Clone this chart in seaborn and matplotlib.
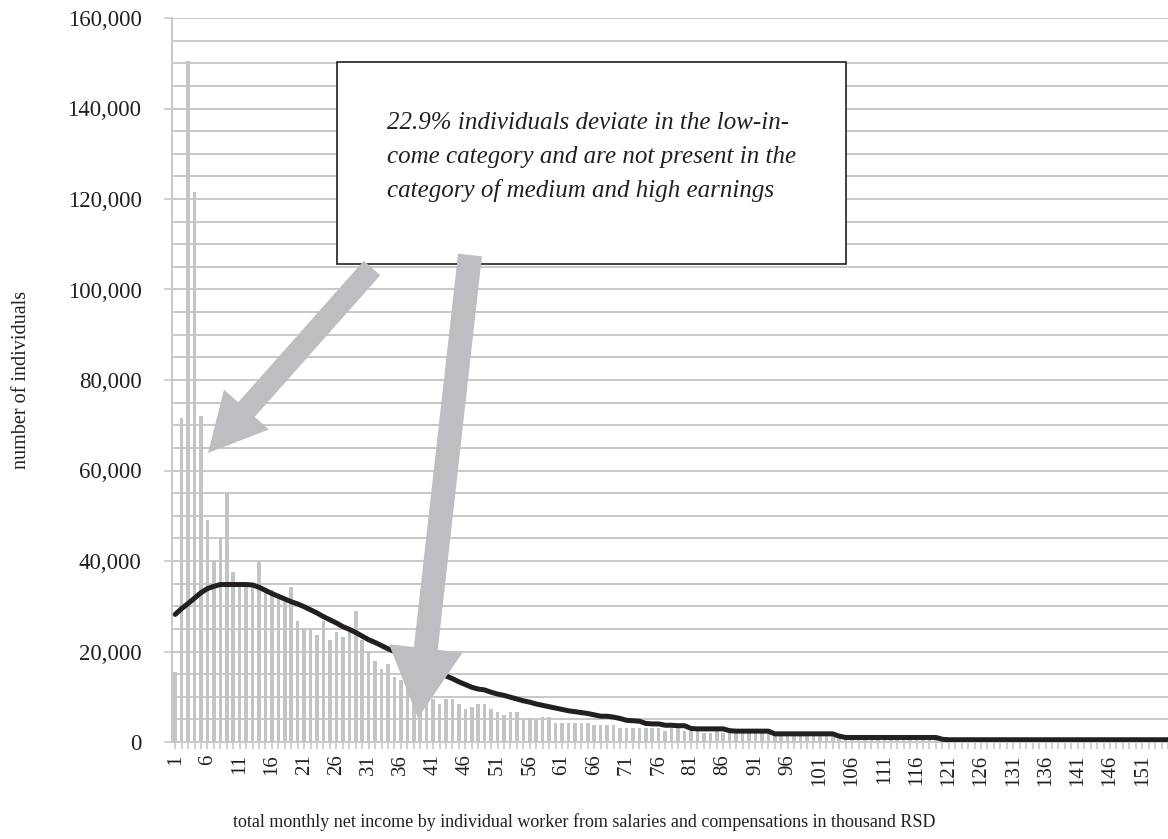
import numpy as np
import pandas as pd
import matplotlib
matplotlib.use("Agg")
import matplotlib.pyplot as plt
import seaborn as sns
from matplotlib.patches import FancyArrow, Rectangle
from matplotlib.transforms import IdentityTransform
from matplotlib.ticker import FuncFormatter, MultipleLocator

# income class (thousand RSD), bar counts and the smoothed curve
categories = list(range(1, 156))
counts = [
    15500, 71500, 150500, 121500, 72000, 49000, 40000, 45000, 55000, 37500,
    35000, 34500, 35000, 40000, 34000, 33500, 32500, 31000, 34300, 26700,
    24900, 24900, 23600, 26700, 22500, 24300, 23100, 24300, 29000, 22500,
    20100, 17800, 16100, 17200, 14400, 13700, 13000, 12000, 11000, 10500,
    9500, 8500, 9600, 9600, 8500, 7200, 7800, 8500, 8500, 7200,
    6700, 6000, 6700, 6700, 5200, 5200, 4900, 5500, 5500, 4300,
    4300, 4300, 4300, 4300, 4300, 3800, 3800, 3800, 3800, 3000,
    3000, 3000, 3000, 3000, 3000, 3000, 2500, 3000, 3000, 2500,
    2500, 2500, 1900, 1900, 2500, 1900, 1900, 1900, 1900, 1900,
    1900, 1900, 1900, 1500, 1500, 1600, 1500, 1500, 1400, 1500,
    1400, 1300, 1400, 1300, 900, 1000, 900, 900, 800, 900,
    800, 800, 900, 800, 700, 800, 700, 700, 800, 700,
    400, 400, 300, 400, 300, 300, 300, 300, 300, 300,
    300, 200, 300, 200, 200, 300, 200, 200, 200, 200,
    200, 200, 200, 200, 200, 200, 200, 200, 200, 200,
    200, 200, 200, 200, 200,
]
smooth = [
    28200, 29500, 30600, 31800, 33000, 33900, 34400, 34800, 34800, 34800,
    34800, 34800, 34700, 34200, 33500, 32800, 32200, 31600, 31000, 30500,
    29900, 29200, 28500, 27700, 27000, 26300, 25500, 24900, 24200, 23400,
    22600, 22000, 21300, 20600, 20000, 19300, 18600, 18000, 17300, 16600,
    15800, 15200, 14600, 14000, 13300, 12700, 12100, 11700, 11500, 11000,
    10600, 10300, 9900, 9500, 9100, 8800, 8400, 8100, 7800, 7500,
    7200, 6900, 6700, 6500, 6300, 6000, 5700, 5700, 5500, 5200,
    4800, 4700, 4600, 4100, 4000, 4000, 3700, 3700, 3600, 3600,
    3000, 2900, 2900, 2900, 2900, 2900, 2500, 2400, 2400, 2400,
    2400, 2400, 2400, 1800, 1800, 1800, 1800, 1800, 1800, 1800,
    1800, 1800, 1800, 1300, 1000, 1000, 1000, 1000, 1000, 1000,
    1000, 1000, 1000, 1000, 1000, 1000, 1000, 1000, 1000, 600,
    500, 500, 500, 500, 500, 500, 500, 500, 500, 500,
    500, 500, 500, 500, 500, 500, 500, 500, 500, 500,
    500, 500, 500, 500, 500, 500, 500, 500, 500, 500,
    500, 500, 500, 500, 500,
]
note_lines = [
    "22.9% individuals deviate in the low-in-",
    "come category and are not present in the",
    "category of medium and high earnings",
]
xlabel = "total monthly net income by individual worker from salaries and compensations in thousand RSD"
ylabel = "number of individuals"

df = pd.DataFrame({"income": categories, "count": counts, "smooth": smooth})

sns.set_style("white")
plt.rcParams["font.family"] = ["Liberation Serif", "DejaVu Serif"]

W, H = 1168, 839
BAR = "#c3c4c8"
GRID = "#c8c8c8"
INK = "#231f20"

fig = plt.figure(figsize=(W / 100, H / 100), dpi=100)
ax = fig.add_axes([172 / W, (H - 742) / H, (W - 172) / W, (742 - 18) / H])

sns.barplot(data=df, x="income", y="count", order=categories, color=BAR,
            width=0.55, saturation=1, linewidth=0, ax=ax, zorder=2)
ax.plot(np.arange(len(df)), df["smooth"], color=INK, lw=3.6,
        solid_joinstyle="round", solid_capstyle="round", zorder=3)

ax.set_ylim(0, 160000)
ax.set_xlim(-0.5, (W - 172) / 6.49 - 0.5)
ax.yaxis.set_major_locator(MultipleLocator(20000))
ax.yaxis.set_minor_locator(MultipleLocator(5000))
ax.yaxis.set_major_formatter(FuncFormatter(lambda v, p: f"{int(v):,}"))
ax.grid(axis="y", which="both", color=GRID, lw=1.4, zorder=0)
ax.set_axisbelow(True)

ax.set_xticks(np.arange(0, len(categories), 5))
ax.set_xticklabels([str(c) for c in categories[::5]], rotation=90)
ax.set_xticks(np.arange(len(categories)), minor=True)

ax.tick_params(axis="y", which="major", length=6, width=1.2, color=GRID,
               labelsize=16.5, labelcolor=INK, pad=16, left=True)
ax.tick_params(axis="y", which="minor", length=0)
ax.tick_params(axis="x", which="both", length=5, width=1.2, color=GRID,
               bottom=True, direction="out")
ax.tick_params(axis="x", which="major", labelsize=15, labelcolor=INK, pad=4)

for s in ["top", "right"]:
    ax.spines[s].set_visible(False)
for s in ["left", "bottom"]:
    ax.spines[s].set_color(GRID)
    ax.spines[s].set_linewidth(1.4)
ax.set_xlabel("")
ax.set_ylabel("")

fig.text(584 / W, 1 - 822 / H, xlabel, ha="center", va="center",
         fontsize=13, color=INK)
fig.text(22 / W, 1 - 380 / H, ylabel, ha="center", va="center",
         rotation=90, fontsize=14.5, color=INK)

# callout box and arrows
fig.add_artist(Rectangle((337 / W, 1 - 264 / H), (846 - 337) / W, (264 - 62) / H,
                         transform=fig.transFigure, fc="white", ec=INK,
                         lw=1.2, zorder=4))
for i, line in enumerate(note_lines):
    fig.text(387 / W, 1 - (123 + 34 * i) / H, line, ha="left", va="center",
             style="italic", fontsize=18, color=INK, zorder=6)


def fat_arrow(x0, y0, x1, y1, w, hw, hl):
    fig.add_artist(FancyArrow(x0, H - y0, x1 - x0, -(y1 - y0), width=w,
                              head_width=hw, head_length=hl,
                              length_includes_head=True, color="#bdbec1",
                              lw=0, transform=IdentityTransform(), zorder=5))


fat_arrow(372, 268, 208, 453, 22, 60, 58)
fat_arrow(470, 255, 418, 718, 24, 74, 70)

fig.savefig("out.png", dpi=100)
